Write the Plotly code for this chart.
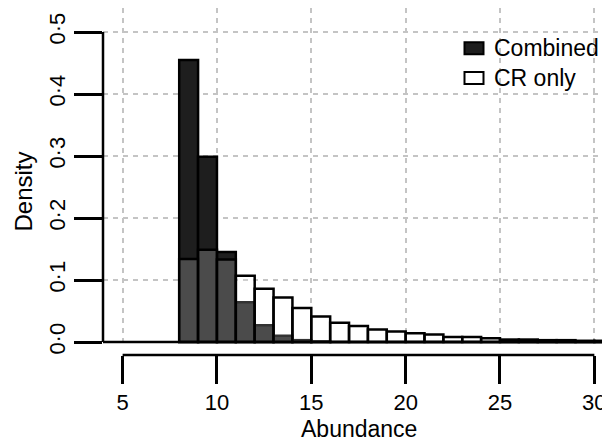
import plotly.graph_objects as go

# Histogram bins (left edges, width 1)
bin_left = [8, 9, 10, 11, 12, 13, 14, 15, 16, 17, 18, 19, 20, 21, 22, 23, 24, 25, 26, 27, 28, 29, 30]
combined = [0.455, 0.299, 0.145, 0.064, 0.027, 0.010, 0.003, 0.001, 0, 0, 0, 0, 0, 0, 0, 0, 0, 0, 0, 0, 0, 0, 0]
cr_only = [0.134, 0.149, 0.133, 0.107, 0.086, 0.072, 0.055, 0.041, 0.031, 0.026, 0.020, 0.017,
           0.014, 0.012, 0.008, 0.008, 0.006, 0.004, 0.004, 0.003, 0.003, 0.002, 0.002]

x_ticks = [5, 10, 15, 20, 25, 30]
x_labels = ["5", "10", "15", "20", "25", "30"]
y_ticks = [0.0, 0.1, 0.2, 0.3, 0.4, 0.5]
y_labels = ["0·0", "0·1", "0·2", "0·3", "0·4", "0·5"]
legend_names = ["Combined", "CR only"]

FONT = "Liberation Sans, Arial, Helvetica, sans-serif"
FS_TICK = 22
FS_LAB = 23
LW = 2.5
GRID = "#c4c4c4"
DASH = "5px,5px"
XR = [3.961, 30.83]

W, H = 602, 432
ML, MB = 95, 85
PW, PH = W - ML, H - MB


def px(x):
    return (x - ML) / PW


def py(y):
    return (PH - y) / PH


COMB_FILL = "#1e1e1e"
CR_FILL = "rgba(255,255,255,0.2)"

fig = go.Figure()
fig.add_trace(go.Bar(
    x=bin_left, y=combined, width=1, offset=0, name=legend_names[0], showlegend=False,
    marker=dict(color=COMB_FILL, line=dict(color="black", width=LW)),
))
fig.add_trace(go.Bar(
    x=bin_left, y=cr_only, width=1, offset=0, name=legend_names[1], showlegend=False,
    marker=dict(color=CR_FILL, line=dict(color="black", width=LW)),
))
# helper trace so the tick-only axis below is rendered
fig.add_trace(go.Scatter(x=XR, y=[None, None], xaxis="x2", yaxis="y",
                         mode="markers", showlegend=False, hoverinfo="skip"))

shapes = [
    dict(type="line", xref="paper", yref="y", x0=0, x1=0, y0=0, y1=0.5,
         line=dict(color="black", width=LW), layer="above"),
    dict(type="line", xref="paper", yref="y", x0=0, x1=1, y0=0, y1=0,
         line=dict(color="black", width=LW), layer="above"),
    dict(type="line", xref="x", yref="paper", x0=5, x1=30, y0=0, y1=0,
         line=dict(color="black", width=LW), layer="above"),
]
annotations = [
    dict(text="Density", xref="paper", yref="paper", x=px(15), y=py(183.5),
         textangle=-90, showarrow=False, xanchor="center", yanchor="middle",
         font=dict(size=24)),
    dict(text="Abundance", xref="paper", yref="paper", x=px(350.8), y=py(420.5),
         showarrow=False, xanchor="center", yanchor="middle", font=dict(size=FS_LAB)),
]
# manual legend (R style boxes)
leg_fill = [COMB_FILL, "white"]
leg_y = [40.3, 70.0]
for name, fill, yc in zip(legend_names, leg_fill, leg_y):
    shapes.append(dict(type="rect", xref="paper", yref="paper",
                       x0=px(456.5), x1=px(475.5), y0=py(yc - 6), y1=py(yc + 6),
                       fillcolor=fill, line=dict(color="black", width=2), layer="above"))
    annotations.append(dict(text=name, xref="paper", yref="paper", x=px(484), y=py(yc),
                            showarrow=False, xanchor="left", yanchor="middle",
                            font=dict(size=FS_LAB)))

fig.update_layout(
    width=W, height=H,
    margin=dict(l=ML, r=0, t=0, b=MB),
    paper_bgcolor="white", plot_bgcolor="white",
    barmode="overlay",
    font=dict(family=FONT, size=FS_TICK, color="black"),
    showlegend=False,
    xaxis=dict(range=XR, domain=[0, 1], anchor="y", tickvals=x_ticks,
               showticklabels=False, ticks="", showline=False, zeroline=False,
               showgrid=True, gridcolor=GRID, gridwidth=1.8, griddash=DASH),
    xaxis2=dict(range=XR, overlaying="x", anchor="free", position=0, side="bottom",
                tickvals=x_ticks, ticktext=x_labels, ticks="outside", ticklen=28,
                tickwidth=LW, tickcolor="black", showgrid=False, showline=False,
                zeroline=False, tickfont=dict(size=FS_TICK)),
    yaxis=dict(range=[-0.0048, 0.5387], domain=[10 / PH, 1], tickvals=y_ticks,
               ticktext=y_labels, tickangle=-90, ticks="outside", ticklen=28,
               tickwidth=LW, tickcolor="black", showline=False, zeroline=False,
               showgrid=True, gridcolor=GRID, gridwidth=1.8, griddash=DASH,
               tickfont=dict(size=FS_TICK)),
    shapes=shapes,
    annotations=annotations,
)

fig.write_html("out.html")
